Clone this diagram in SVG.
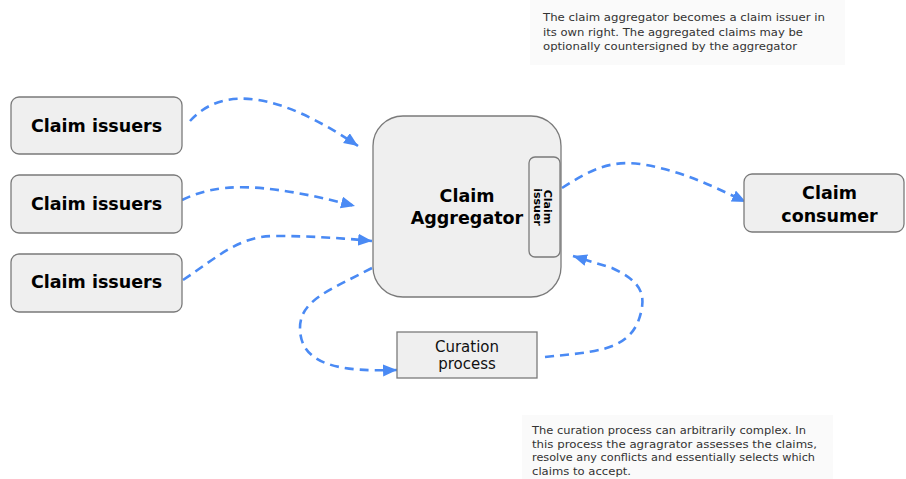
<svg xmlns="http://www.w3.org/2000/svg" width="906" height="479" viewBox="0 0 906 479">
<style>
.box{fill:#efefef;stroke:#7a7a7a;stroke-width:1.3}
.lbl{font-family:"DejaVu Sans",sans-serif;font-weight:bold;font-size:17.5px;fill:#000;text-anchor:middle}
.small{font-family:"DejaVu Sans",sans-serif;font-weight:bold;font-size:11px;fill:#000;text-anchor:middle}
.reg{font-family:"DejaVu Sans",sans-serif;font-size:15px;fill:#111;text-anchor:middle}
.note{font-family:"DejaVu Sans",sans-serif;font-size:11px;fill:#333}
.conn{fill:none;stroke:#4a8af4;stroke-width:2.6;stroke-dasharray:9 6;marker-end:url(#arr)}
.notebg{fill:#fafafa}
</style>
<defs>
<marker id="arr" markerUnits="userSpaceOnUse" markerWidth="16" markerHeight="14" refX="14" refY="6" orient="auto">
<path d="M0,0 L14,6 L0,12 z" fill="#4a8af4"/>
</marker>
</defs>
<rect width="906" height="479" fill="#fff"/>
<g id="note-top">
<rect class="notebg" x="530" y="0" width="315" height="65"/>
<text class="note" x="543" y="21" textLength="282" lengthAdjust="spacingAndGlyphs">The claim aggregator becomes a claim issuer in</text>
<text class="note" x="543" y="35.5" textLength="260" lengthAdjust="spacingAndGlyphs">its own right. The aggregated claims may be</text>
<text class="note" x="543" y="50" textLength="254" lengthAdjust="spacingAndGlyphs">optionally countersigned by the aggregator</text>
</g>
<g id="note-bottom">
<rect class="notebg" x="522" y="415" width="311" height="64"/>
<text class="note" x="532" y="434" textLength="274" lengthAdjust="spacingAndGlyphs">The curation process can arbitrarily complex. In</text>
<text class="note" x="532" y="447.5" textLength="285" lengthAdjust="spacingAndGlyphs">this process the agragrator assesses the claims,</text>
<text class="note" x="532" y="461" textLength="283" lengthAdjust="spacingAndGlyphs">resolve any conflicts and essentially selects which</text>
<text class="note" x="532" y="474.5" textLength="99" lengthAdjust="spacingAndGlyphs">claims to accept.</text>
</g>
<g id="connectors">
<path class="conn" d="M190,121 Q240,66 358,146"/>
<path class="conn" d="M182,200 C215,184 255,180 355,206"/>
<path class="conn" d="M183,280 C220,255 240,236 275,236 C310,236 340,238 372,241"/>
<path class="conn" d="M562,188 C590,170 610,160 640,164 C680,170 710,185 746,202"/>
<path class="conn" d="M545,357 C590,352 625,352 638,322 C648,295 642,282 612,268 L573,256"/>
<path class="conn" d="M372,268 C330,290 300,300 300,328 C300,365 340,372 397,370"/>
</g>
<g id="issuer1">
<rect class="box" x="11" y="97" width="171" height="57" rx="8"/>
<text class="lbl" x="96.5" y="132">Claim issuers</text>
</g>
<g id="issuer2">
<rect class="box" x="11" y="175" width="171" height="58" rx="8"/>
<text class="lbl" x="96.5" y="210">Claim issuers</text>
</g>
<g id="issuer3">
<rect class="box" x="11" y="254" width="171" height="58" rx="8"/>
<text class="lbl" x="96.5" y="288">Claim issuers</text>
</g>
<g id="aggregator">
<rect class="box" x="373" y="116" width="188" height="181" rx="30"/>
<text class="lbl" x="467" y="202">Claim</text>
<text class="lbl" x="467" y="224">Aggregator</text>
</g>
<g id="aggregator-issuer">
<rect class="box" x="529" y="157" width="31" height="100" rx="6"/>
<g transform="translate(544,207) rotate(90)">
<text class="small" x="0" y="0">Claim</text>
<text class="small" x="0" y="10">issuer</text>
</g>
</g>
<g id="consumer">
<rect class="box" x="744" y="174" width="160" height="58" rx="8"/>
<text class="lbl" x="829.5" y="199">Claim</text>
<text class="lbl" x="829.5" y="222">consumer</text>
</g>
<g id="curation">
<rect class="box" x="397" y="332" width="140" height="46"/>
<text class="reg" x="467" y="352">Curation</text>
<text class="reg" x="467" y="369">process</text>
</g>
</svg>
